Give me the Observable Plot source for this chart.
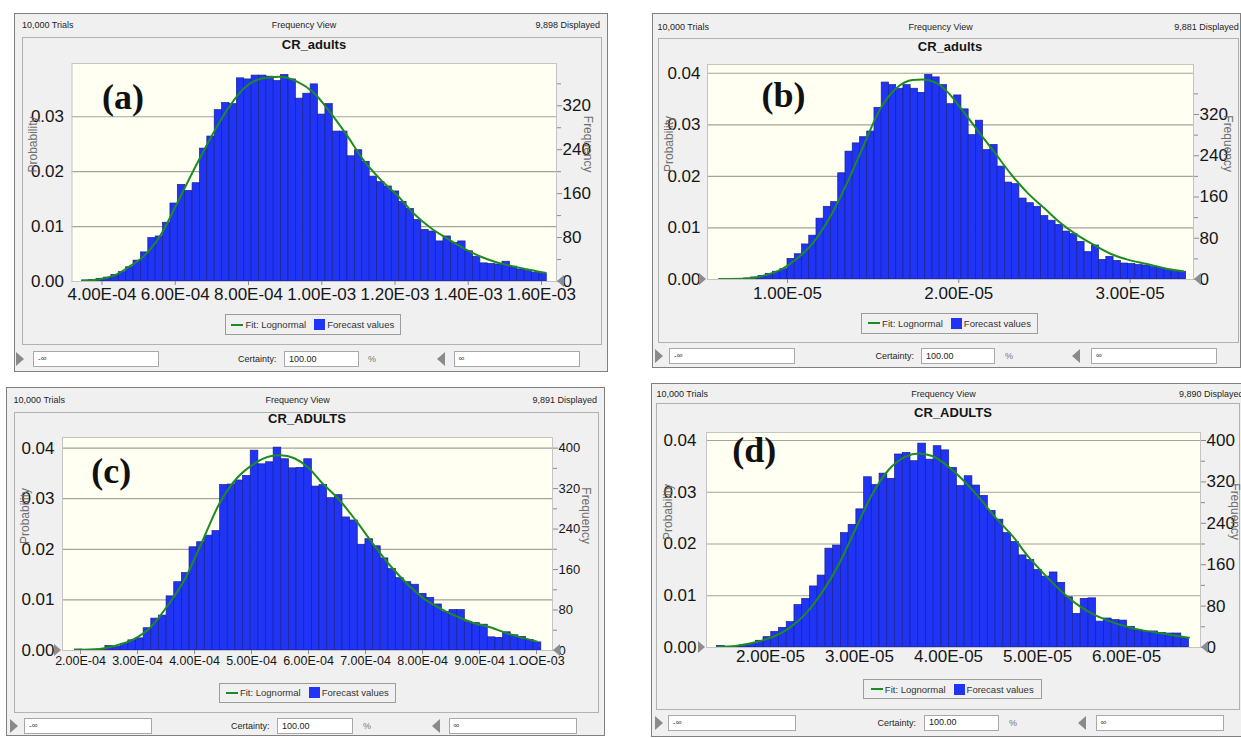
<!DOCTYPE html>
<html>
<head>
<meta charset="utf-8">
<script src="https://cdn.jsdelivr.net/npm/d3@7"></script>
<script src="https://cdn.jsdelivr.net/npm/@observablehq/plot@0.6"></script>
<style>
  body { margin: 0; background: #fff; }
  #page { position: relative; width: 1241px; height: 738px; overflow: hidden; background: #fff;
          font-family: "Liberation Sans", Arial, Helvetica, sans-serif; }
  .win { position: absolute; box-sizing: border-box; background: #f0f0f0; border: 1px solid #808080; }
  .inner { position: absolute; box-sizing: border-box; border: 1px solid #b2b2b2; }
  .t9 { position: absolute; font-size: 9px; line-height: 10px; color: #1e1e1e; white-space: nowrap; }
  .title { position: absolute; font-size: 13px; font-weight: bold; line-height: 14px; color: #151515;
           transform: translate(-50%, -50%); white-space: nowrap; }
  .box { position: absolute; box-sizing: border-box; background: #fff; border: 1px solid #a8a8a8;
         font-size: 8px; color: #333; padding-left: 4px; white-space: nowrap; }
  .legend { position: absolute; box-sizing: border-box; border: 1px solid #9c9c9c; background: #f0f0f0;
            display: flex; align-items: center; justify-content: center; font-size: 9.5px; color: #333; white-space: nowrap; }
  .lline { display: inline-block; width: 12px; height: 2px; background: #1e8b22; margin-right: 2px; }
  .lsq { display: inline-block; width: 11px; height: 11px; background: #1f34f4; margin: 0 2px 0 8px; }
  .triR { position: absolute; width: 0; height: 0; border-top: 7px solid transparent; border-bottom: 7px solid transparent; border-left: 8px solid #8a8a8a; }
  .triL { position: absolute; width: 0; height: 0; border-top: 7px solid transparent; border-bottom: 7px solid transparent; border-right: 8px solid #8a8a8a; }
  .gR { position: absolute; width: 0; height: 0; border-top: 6px solid transparent; border-bottom: 6px solid transparent; border-left: 7px solid #8c8c8c; }
  .gL { position: absolute; width: 0; height: 0; border-top: 6px solid transparent; border-bottom: 6px solid transparent; border-right: 7px solid #8c8c8c; }
  .plotwrap { position: absolute; }
  .plotwrap svg { overflow: visible; }
</style>
</head>
<body>
<div id="page"></div>
<script>
// ================= DATA =================
// Panel (a)
const probA = [0.0002,0.0003,0.0005,0.0007,0.0012,0.0017,0.0026,0.0038,0.0053,0.0079,
  0.0082,0.0107,0.0142,0.0176,0.0165,0.0179,0.0242,0.0264,0.0312,0.0325,
  0.0323,0.0370,0.0368,0.0375,0.0375,0.0373,0.0365,0.0376,0.0368,0.0333,
  0.0342,0.0359,0.0304,0.0323,0.0273,0.0273,0.0228,0.0239,0.0218,0.0191,
  0.0181,0.0173,0.0164,0.0145,0.0132,0.0112,0.0094,0.0091,0.0073,0.0082,
  0.0070,0.0073,0.0055,0.0045,0.0033,0.0032,0.0031,0.0036,0.0027,0.0022,
  0.0019,0.0016,0.0015];
const binStartA = 3.45e-4, binWidthA = 2.015e-5;
const fitXA = [3.45e-4,4.0e-4,4.4e-4,4.72e-4,5.17e-4,5.63e-4,6.09e-4,6.55e-4,7.01e-4,7.47e-4,
  7.93e-4,8.39e-4,8.84e-4,9.30e-4,9.76e-4,1.022e-3,1.068e-3,1.114e-3,1.160e-3,1.206e-3,
  1.251e-3,1.297e-3,1.343e-3,1.389e-3,1.435e-3,1.472e-3,1.52e-3,1.57e-3,1.61e-3];
const fitPA = [0.0001,0.0005,0.0013,0.0026,0.0048,0.0088,0.0148,0.0209,0.0267,0.0318,
  0.0355,0.0370,0.0373,0.0365,0.0345,0.0309,0.0267,0.0221,0.0186,0.0157,
  0.0124,0.0098,0.0078,0.0060,0.0045,0.0036,0.0028,0.0021,0.0016];
const xTicksA = [0.0004,0.0006,0.0008,0.0010,0.0012,0.0014,0.0016];
const xTickLabelsA = ["4.00E-04","6.00E-04","8.00E-04","1.00E-03","1.20E-03","1.40E-03","1.60E-03"];

// Panel (b)
const probB = [0.0001,0.0001,0.0001,0.0002,0.0004,0.0007,0.0011,0.0015,0.0020,
  0.0040,0.0049,0.0068,0.0085,0.0118,0.0141,0.0150,0.0206,0.0248,0.0264,
  0.0276,0.0287,0.0333,0.0382,0.0377,0.0370,0.0377,0.0370,0.0362,0.0397,
  0.0392,0.0377,0.0340,0.0357,0.0330,0.0280,0.0308,0.0251,0.0261,0.0219,
  0.0188,0.0185,0.0157,0.0148,0.0141,0.0123,0.0114,0.0106,0.0093,0.0088,
  0.0073,0.0053,0.0066,0.0038,0.0044,0.0036,0.0031,
  0.0030,0.0028,0.0027,0.0024,0.0022,0.0019,0.0017,0.0015];
const binStartB = 0.6193e-5, binWidthB = 0.423e-6;
const fitXB = [0.600e-5,0.769e-5,0.865e-5,0.962e-5,1.058e-5,1.154e-5,1.250e-5,1.346e-5,1.442e-5,1.538e-5,
  1.635e-5,1.731e-5,1.788e-5,1.865e-5,1.942e-5,2.019e-5,2.115e-5,2.212e-5,2.308e-5,2.404e-5,
  2.500e-5,2.596e-5,2.692e-5,2.788e-5,2.885e-5,2.981e-5,3.10e-5,3.20e-5,3.31e-5];
const fitPB = [0.0001,0.0002,0.0008,0.0019,0.0041,0.0073,0.0122,0.0186,0.0258,0.0329,
  0.0371,0.0387,0.0388,0.0382,0.0361,0.0329,0.0287,0.0245,0.0203,0.0167,
  0.0138,0.0109,0.0086,0.0067,0.0050,0.0039,0.0030,0.0022,0.0016];
const xTicksB = [1e-5,2e-5,3e-5];
const xTickLabelsB = ["1.00E-05","2.00E-05","3.00E-05"];

// Panel (c)
const probC = [0.0002,0.0001,0.0001,0.0002,0.0009,0.0007,0.0013,0.0020,0.0024,0.0044,
  0.0063,0.0069,0.0107,0.0135,0.0153,0.0204,0.0214,0.0227,0.0236,0.0327,
  0.0328,0.0336,0.0345,0.0395,0.0368,0.0372,0.0401,0.0378,0.0360,0.0361,
  0.0378,0.0324,0.0327,0.0301,0.0307,0.0263,0.0257,0.0209,0.0220,0.0206,
  0.0182,0.0161,0.0143,0.0135,0.0130,0.0112,0.0104,0.0091,0.0076,0.0080,
  0.0080,0.0056,0.0054,0.0051,0.0026,0.0025,0.0036,0.0030,0.0027,0.0021,
  0.0016];
const binStartC = 1.90e-4, binWidthC = 1.3416e-5;
const fitXC = [1.906e-4,2.33e-4,2.63e-4,2.93e-4,3.23e-4,3.53e-4,3.83e-4,4.13e-4,4.43e-4,4.73e-4,
  5.03e-4,5.33e-4,5.51e-4,5.75e-4,5.99e-4,6.23e-4,6.53e-4,6.83e-4,7.13e-4,7.43e-4,
  7.73e-4,8.03e-4,8.33e-4,8.63e-4,8.93e-4,9.13e-4,9.5e-4,1.0e-3];
const fitPC = [0.0001,0.0003,0.0010,0.0022,0.0046,0.0089,0.0141,0.0214,0.0289,0.0339,
  0.0368,0.0384,0.0386,0.0380,0.0362,0.0332,0.0299,0.0257,0.0211,0.0168,
  0.0132,0.0102,0.0082,0.0066,0.0053,0.0048,0.0033,0.0018];
const xTicksC = [2e-4,3e-4,4e-4,5e-4,6e-4,7e-4,8e-4,9e-4,1e-3];
const xTickLabelsC = ["2.00E-04","3.00E-04","4.00E-04","5.00E-04","6.00E-04","7.00E-04","8.00E-04","9.00E-04","1.OOE-03"];

// Panel (d)
const probD = [0.0003,0.0001,0.0001,0.0005,0.0007,0.0013,0.0020,0.0030,0.0038,0.0049,
  0.0082,0.0094,0.0118,0.0139,0.0191,0.0197,0.0221,0.0237,0.0267,0.0329,
  0.0314,0.0336,0.0326,0.0373,0.0376,0.0360,0.0394,0.0363,0.0389,0.0381,
  0.0347,0.0312,0.0331,0.0313,0.0293,0.0264,0.0247,0.0221,0.0204,0.0178,
  0.0169,0.0150,0.0137,0.0145,0.0125,0.0097,0.0065,0.0094,0.0095,
  0.0050,0.0056,0.0053,0.0052,0.0040,0.0033,0.0030,0.0031,0.0028,0.0027,
  0.0027,0.0018];
const binStartD = 1.40e-5, binWidthD = 0.869e-6;
const fitXD = [1.401e-5,1.607e-5,1.831e-5,2.019e-5,2.206e-5,2.393e-5,2.581e-5,2.768e-5,2.955e-5,3.142e-5,
  3.330e-5,3.517e-5,3.667e-5,3.816e-5,3.966e-5,4.154e-5,4.341e-5,4.528e-5,4.715e-5,4.903e-5,
  5.090e-5,5.278e-5,5.464e-5,5.652e-5,5.839e-5,6.026e-5,6.101e-5,6.4e-5,6.7e-5];
const fitPD = [0.0001,0.0003,0.0010,0.0020,0.0037,0.0065,0.0107,0.0161,0.0229,0.0296,
  0.0344,0.0369,0.0375,0.0370,0.0354,0.0325,0.0290,0.0251,0.0216,0.0174,
  0.0139,0.0107,0.0081,0.0062,0.0049,0.0039,0.0036,0.0027,0.0019];
const xTicksD = [2e-5,3e-5,4e-5,5e-5,6e-5];
const xTickLabelsD = ["2.00E-05","3.00E-05","4.00E-05","5.00E-05","6.00E-05"];

// Shared axis ticks
const probTicks3 = [0, 0.01, 0.02, 0.03];
const probTickLabels3 = ["0.00","0.01","0.02","0.03"];
const probTicks4 = [0, 0.01, 0.02, 0.03, 0.04];
const probTickLabels4 = ["0.00","0.01","0.02","0.03","0.04"];
const freqTicks320 = [0, 80, 160, 240, 320];
const freqLabels320 = ["0","80","160","240","320"];
const freqTicks400 = [0, 80, 160, 240, 320, 400];
const freqLabels400 = ["0","80","160","240","320","400"];
const freqMinor = [40, 120, 200, 280, 360];
const trials = 10000;

// Texts
const trialsText = "10,000 Trials";
const viewText = "Frequency View";
const displayedTexts = ["9,898 Displayed","9,881 Displayed","9,891 Displayed","9,890 Displayed"];
const titles = ["CR_adults","CR_adults","CR_ADULTS","CR_ADULTS"];
const tags = ["(a)","(b)","(c)","(d)"];
const legendFit = "Fit: Lognormal", legendBars = "Forecast values";

// ================= LAYOUT =================
const panels = [
  { win:{x:14,y:13,w:594,h:359}, hdrY:20, hdrL:22, hdrC:304, hdrR:600,
    titleX:314, titleY:45, inner:{x:21.5,y:36.5,w:580.5,h:308.5},
    svg:{x:21,y:51,w:581,h:260,ml:50.5,mr:46,mt:12,mb:30},
    probs:probA, binStart:binStartA, binWidth:binWidthA, fitX:fitXA, fitP:fitPA,
    xDomain:[3.18e-4,1.641e-3], yDomain:[0,0.0397],
    xTicks:xTicksA, xLabels:xTickLabelsA, xFont:17, xTickSize:4, xPad:2,
    yTicks:probTicks3, yLabels:probTickLabels3, yPad:8, yFont:17,
    fTicks:freqTicks320, fLabels:freqLabels320, fFont:17,
    tagDx:30, tagDy:34, probDx:-38.5, freqDx:31, leftGrab:false,
    legend:{x:224.6,y:314,w:176.4,h:21},
    bot:{y:350.5,h:16,tri:16,in1:[33,159],certR:276.5,in2:[284,359],pct:368,tri2:437,in3:[453.5,580]} },
  { win:{x:652,y:13,w:589,h:355}, hdrY:21.5, hdrL:657.5, hdrC:940.6, hdrR:1238.7,
    titleX:950, titleY:46.7, inner:{x:657.5,y:38,w:581.5,h:305},
    svg:{x:657,y:52,w:582,h:257,ml:50,mr:46,mt:12,mb:30},
    probs:probB, binStart:binStartB, binWidth:binWidthB, fitX:fitXB, fitP:fitPB,
    xDomain:[0.533e-5,3.37e-5], yDomain:[0,0.0417],
    xTicks:xTicksB, xLabels:xTickLabelsB, xFont:17, xTickSize:4, xPad:3,
    yTicks:probTicks4, yLabels:probTickLabels4, yPad:7, yFont:17,
    fTicks:freqTicks320, fLabels:freqLabels320, fFont:17,
    tagDx:54, tagDy:31, probDx:-38, freqDx:34, leftGrab:true,
    legend:{x:861,y:313,w:177,h:20.5},
    bot:{y:348,h:16,tri:655,in1:[669,795],certR:914,in2:[921,995],pct:1005,tri2:1072,in3:[1091,1217]} },
  { win:{x:6,y:387,w:599,h:349}, hdrY:395, hdrL:13.6, hdrC:297.7, hdrR:597,
    titleX:307, titleY:419, inner:{x:13.6,y:411.7,w:585.4,h:301.3},
    svg:{x:13,y:425,w:586,h:255,ml:49,mr:47,mt:12,mb:30},
    probs:probC, binStart:binStartC, binWidth:binWidthC, fitX:fitXC, fitP:fitPC,
    xDomain:[1.684e-4,1.028e-3], yDomain:[0,0.0421],
    xTicks:xTicksC, xLabels:xTickLabelsC, xFont:12.5, xTickSize:4, xPad:2,
    yTicks:probTicks4, yLabels:probTickLabels4, yPad:8, yFont:17,
    fTicks:freqTicks400, fLabels:freqLabels400, fFont:13,
    tagDx:28.7, tagDy:33.7, probDx:-37, freqDx:33.6, leftGrab:true,
    legend:{x:218.7,y:682.7,w:177.3,h:20},
    bot:{y:718,h:16,tri:10,in1:[24,152],certR:269.6,in2:[277,353],pct:363,tri2:432,in3:[448.6,577]} },
  { win:{x:651,y:383,w:592,h:354}, hdrY:389, hdrL:656.4, hdrC:943.5, hdrR:1243.5,
    titleX:953, titleY:413, inner:{x:656.4,y:403,w:584,h:307},
    svg:{x:656,y:420,w:584,h:257,ml:50,mr:40,mt:12,mb:30},
    probs:probD, binStart:binStartD, binWidth:binWidthD, fitX:fitXD, fitP:fitPD,
    xDomain:[1.281e-5,6.83e-5], yDomain:[0,0.04155],
    xTicks:xTicksD, xLabels:xTickLabelsD, xFont:17, xTickSize:0, xPad:2,
    yTicks:probTicks4, yLabels:probTickLabels4, yPad:10, yFont:17,
    fTicks:freqTicks400, fLabels:freqLabels400, fFont:17,
    tagDx:25.7, tagDy:18, probDx:-38, freqDx:34, leftGrab:true,
    legend:{x:862.5,y:679,w:179.5,h:20},
    bot:{y:715,h:15.5,tri:655,in1:[668,796],certR:916,in2:[924,998.6],pct:1009,tri2:1078,in3:[1095.6,1224]} }
];

const FONT = '"Liberation Sans", Arial, Helvetica, sans-serif';
const page = document.getElementById("page");

function el(cls, style, text) {
  const d = document.createElement("div");
  d.className = cls;
  Object.assign(d.style, style);
  if (text != null) d.textContent = text;
  page.appendChild(d);
  return d;
}
const px = v => v + "px";

function makePlot(c, tag) {
  const bins = c.probs.map((p, i) => ({x1: c.binStart + i * c.binWidth, x2: c.binStart + (i + 1) * c.binWidth, p}));
  const fit = c.fitX.map((x, i) => ({x, p: c.fitP[i]}));
  const yLab = new Map(c.yTicks.map((t, i) => [t, c.yLabels[i]]));
  const xLab = new Map(c.xTicks.map((t, i) => [t, c.xLabels[i]]));
  const fMaj = c.fTicks.map(f => f / trials);
  const fLab = new Map(fMaj.map((t, i) => [t, c.fLabels[i]]));
  const fMin = freqMinor.map(f => f / trials).filter(v => v <= c.yDomain[1]);
  return Plot.plot({
    width: c.svg.w, height: c.svg.h,
    marginLeft: c.svg.ml, marginRight: c.svg.mr, marginTop: c.svg.mt, marginBottom: c.svg.mb,
    x: {domain: c.xDomain, label: null},
    y: {domain: c.yDomain, label: null},
    style: {background: "transparent", fontFamily: FONT, overflow: "visible"},
    marks: [
      Plot.frame({fill: "#fffff2", stroke: "none"}),
      Plot.ruleY(c.yTicks, {stroke: "#a3a39a", strokeWidth: 1.2}),
      Plot.rect(bins, {x1: "x1", x2: "x2", y1: () => 0, y2: "p", fill: "#1f34f4", stroke: "#1a2290", strokeWidth: 0.7}),
      Plot.line(fit, {x: "x", y: "p", stroke: "#1e8b22", strokeWidth: 2, curve: "monotone-x"}),
      Plot.frame({stroke: "#c4c4c4", fill: "none"}),
      Plot.axisY(c.yTicks, {anchor: "left", label: null, tickSize: 0, tickPadding: c.yPad, tickFormat: d => yLab.get(d),
        fontSize: c.yFont, fill: "#161616"}),
      Plot.axisY(fMaj, {anchor: "right", label: null, tickSize: 5, tickPadding: 1, tickFormat: d => fLab.get(d),
        fontSize: c.fFont, fill: "#161616", stroke: "#8a8a8a"}),
      Plot.axisY(fMin, {anchor: "right", label: null, tickSize: 4, tickFormat: () => "", stroke: "#8a8a8a"}),
      Plot.axisX(c.xTicks, {anchor: "bottom", label: null, tickSize: c.xTickSize, tickPadding: c.xPad, tickFormat: d => xLab.get(d),
        fontSize: c.xFont, fill: "#161616", stroke: "#8a8a8a"}),
      Plot.text([tag], {text: d => d, frameAnchor: "top-left", dx: c.tagDx, dy: c.tagDy, textAnchor: "start",
        lineAnchor: "middle", fontFamily: '"Liberation Serif", "Times New Roman", serif', fontWeight: "bold",
        fontSize: 36, fill: "#111"}),
      Plot.text(["Probability"], {text: d => d, frameAnchor: "left", dx: c.probDx, rotate: -90,
        fontSize: 12, fill: "#6e6e6e"}),
      Plot.text(["Frequency"], {text: d => d, frameAnchor: "right", dx: c.freqDx, rotate: 90,
        fontSize: 12, fill: "#6e6e6e"})
    ]
  });
}

panels.forEach((c, k) => {
  el("win", {left: px(c.win.x), top: px(c.win.y), width: px(c.win.w), height: px(c.win.h)});
  el("t9", {left: px(c.hdrL), top: px(c.hdrY)}, trialsText);
  el("t9", {left: px(c.hdrC), top: px(c.hdrY), transform: "translateX(-50%)"}, viewText);
  el("t9", {left: px(c.hdrR), top: px(c.hdrY), transform: "translateX(-100%)"}, displayedTexts[k]);
  el("inner", {left: px(c.inner.x), top: px(c.inner.y), width: px(c.inner.w), height: px(c.inner.h)});
  el("title", {left: px(c.titleX), top: px(c.titleY)}, titles[k]);

  const wrap = el("plotwrap", {left: px(c.svg.x), top: px(c.svg.y), width: px(c.svg.w), height: px(c.svg.h)});
  wrap.appendChild(makePlot(c, tags[k]));

  // certainty grabbers on the baseline
  const plotL = c.svg.x + c.svg.ml, plotR = c.svg.x + c.svg.w - c.svg.mr, base = c.svg.y + c.svg.h - c.svg.mb;
  if (c.leftGrab) el("gR", {left: px(plotL - 8), top: px(base - 6)});
  el("gL", {left: px(plotR + 1), top: px(base - 6)});

  // legend
  const lg = el("legend", {left: px(c.legend.x), top: px(c.legend.y), width: px(c.legend.w), height: px(c.legend.h)});
  lg.innerHTML = '<span class="lline"></span><span>' + legendFit + '</span><span class="lsq"></span><span>' + legendBars + '</span>';

  // bottom controls
  const b = c.bot, mid = b.y + b.h / 2;
  el("triR", {left: px(b.tri), top: px(mid - 7)});
  el("box", {left: px(b.in1[0]), top: px(b.y), width: px(b.in1[1] - b.in1[0]), height: px(b.h), lineHeight: px(b.h - 2)}, "-\u221E");
  el("t9", {left: px(b.certR), top: px(mid - 5), transform: "translateX(-100%)"}, "Certainty:");
  el("box", {left: px(b.in2[0]), top: px(b.y), width: px(b.in2[1] - b.in2[0]), height: px(b.h), lineHeight: px(b.h - 2), fontSize: "9px", color: "#222"}, "100.00");
  el("t9", {left: px(b.pct), top: px(mid - 5), color: "#777"}, "%");
  el("triL", {left: px(b.tri2), top: px(mid - 7)});
  el("box", {left: px(b.in3[0]), top: px(b.y), width: px(b.in3[1] - b.in3[0]), height: px(b.h), lineHeight: px(b.h - 2)}, "\u221E");
});
</script>
</body>
</html>
